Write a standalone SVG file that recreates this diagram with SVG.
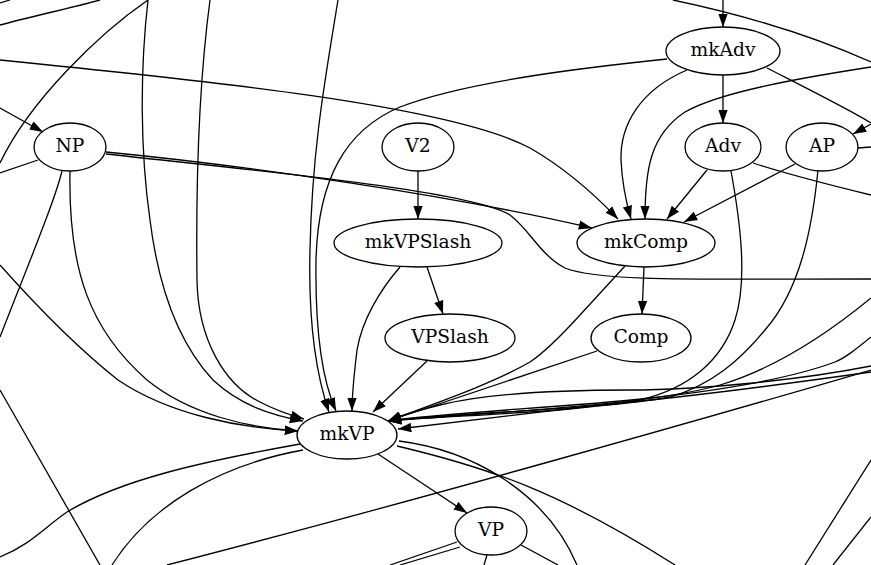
<svg xmlns="http://www.w3.org/2000/svg" width="871" height="565" viewBox="0 0 871 565">
  <defs>
    <marker id="ah" viewBox="0 0 14 10" refX="13.3" refY="5" markerWidth="14" markerHeight="10" markerUnits="userSpaceOnUse" orient="auto">
      <path d="M0,0.3 L13.3,5 L0,9.7 z" fill="#000"/>
    </marker>
  </defs>
  <style>
    .node ellipse { fill: none; stroke: #000; stroke-width: 1.3; }
    .node text { font-family: "DejaVu Serif", "Liberation Serif", serif; font-size: 18.67px; text-anchor: middle; fill: #000; }
    #edges path { fill: none; stroke: #000; stroke-width: 1.3; }
    #edges path.a { marker-end: url(#ah); }
  </style>
  <rect width="871" height="565" fill="#fff"/>

  <g id="edges">
    <!-- lines entering from the top border -->
    <path d="M0,3 L10,0"/>
    <path d="M100,0 C70,8 30,17 0,25"/>
    <path d="M148,0 C100,33 30,100 0,163"/>
    <path class="a" d="M148,0 C140,70 140,150 150,220 C160,300 185,350 213,380 C240,405 270,415 303,421"/>
    <path class="a" d="M210,0 C198,90 196,200 197,280 C198,340 225,385 260,402 C275,410 290,415 304,419"/>
    <path class="a" d="M338,0 C325,80 312,150 310,250 C308,330 318,380 329,412"/>
    <path d="M673,0 C730,12 800,30 871,62"/>
    <path class="a" d="M723,0 L723,27"/>
    <path class="a" d="M0,60 C200,80 450,105 530,148 C565,168 595,195 618,219"/>

    <!-- NP -->
    <path class="a" d="M0,108 L43,132"/>
    <path d="M38,160 L0,173"/>
    <path d="M62,171 C55,200 30,260 0,337"/>
    <path d="M0,390 L100,565"/>
    <path class="a" d="M70,171 C68,270 90,330 147,380 C190,415 250,428 298,431"/>
    <path class="a" d="M0,265 C40,310 80,350 118,380 C170,415 240,428 298,431"/>
    <path class="a" d="M106,152 C250,166 450,195 592,228"/>
    <path d="M106,154 C250,170 470,190 510,215 C530,230 540,255 565,268 C600,282 700,279 871,279"/>

    <!-- V2 / mkVPSlash / VPSlash -->
    <path class="a" d="M418,171 L418,219"/>
    <path class="a" d="M427,267 L443,314"/>
    <path class="a" d="M400,267 C380,290 362,320 357,350 C354,375 352,395 352,411"/>
    <path class="a" d="M427,361 L373,412"/>

    <!-- mkAdv -->
    <path class="a" d="M723,75 L723,123"/>
    <path class="a" d="M687,70 C640,90 620,125 621,160 C622,185 627,205 631,219"/>
    <path class="a" d="M667,59 C600,66 470,80 400,107 C345,130 318,180 316,260 C315,330 322,380 336,411"/>
    <path d="M767,68 C810,90 850,110 871,123"/>
    <path class="a" d="M871,124 L853,134"/>
    <path class="a" d="M871,67 C800,78 720,92 685,112 C650,135 645,170 645,219"/>

    <!-- Adv / AP -->
    <path class="a" d="M707,170 L667,219"/>
    <path class="a" d="M795,164 L684,222"/>
    <path d="M753,163 C790,175 830,185 871,195"/>
    <path d="M858,148 L871,147"/>
    <path class="a" d="M731,171 C740,220 748,280 735,320 C722,360 690,388 640,400 C560,414 450,415 388,421"/>
    <path class="a" d="M818,170 C812,230 800,290 765,330 C740,360 712,385 670,397 C600,410 460,412 388,421"/>

    <!-- mkComp / Comp -->
    <path class="a" d="M644,267 L642,314"/>
    <path class="a" d="M625,266 L580,315 C560,337 545,352 530,362 C490,385 430,405 388,421"/>
    <path class="a" d="M597,351 L388,421"/>

    <!-- lines entering mkVP from the right border -->
    <path class="a" d="M871,298 C820,340 770,370 720,385 C650,405 500,412 388,421"/>
    <path class="a" d="M871,337 C855,350 845,358 835,362 C800,375 740,388 650,398 C560,408 450,412 388,421"/>
    <path class="a" d="M871,366 C800,380 700,390 630,390 C550,390 480,395 440,405 C420,410 400,416 388,421"/>
    <path class="a" d="M871,372 C800,382 700,396 600,405 C520,414 450,423 398,429"/>
    <path d="M871,370 C700,420 400,505 167,565"/>

    <!-- mkVP outgoing -->
    <path class="a" d="M378,454 L467,513"/>
    <path d="M399,441 C470,450 545,490 577,565"/>
    <path d="M397,446 C490,468 560,492 675,565"/>
    <path d="M300,444 C200,462 120,480 67,512 C45,527 30,545 0,557"/>
    <path d="M303,450 C220,465 150,505 112,565"/>

    <!-- VP -->
    <path d="M457,542 L390,565"/>
    <path d="M460,547 L400,565"/>
    <path d="M487,555 L484,565"/>
    <path d="M521,545 L558,565"/>

    <!-- lower right border -->
    <path d="M871,460 L805,565"/>
    <path d="M871,517 L833,565"/>
  </g>

  <g id="NP" class="node"><ellipse cx="70" cy="147" rx="36" ry="24"/><text x="70" y="152">NP</text></g>
  <g id="V2" class="node"><ellipse cx="418" cy="147" rx="36" ry="24"/><text x="418" y="152">V2</text></g>
  <g id="mkAdv" class="node"><ellipse cx="723" cy="51" rx="57" ry="24"/><text x="723" y="56">mkAdv</text></g>
  <g id="Adv" class="node"><ellipse cx="723" cy="147" rx="38" ry="24"/><text x="723" y="152">Adv</text></g>
  <g id="AP" class="node"><ellipse cx="822" cy="147" rx="36" ry="24"/><text x="822" y="152">AP</text></g>
  <g id="mkVPSlash" class="node"><ellipse cx="418" cy="243" rx="84" ry="24"/><text x="418" y="248">mkVPSlash</text></g>
  <g id="mkComp" class="node"><ellipse cx="646" cy="243" rx="69" ry="24"/><text x="646" y="248">mkComp</text></g>
  <g id="VPSlash" class="node"><ellipse cx="450" cy="338" rx="65" ry="24"/><text x="450" y="343">VPSlash</text></g>
  <g id="Comp" class="node"><ellipse cx="641" cy="338" rx="50" ry="24"/><text x="641" y="343">Comp</text></g>
  <g id="mkVP" class="node"><ellipse cx="347" cy="435" rx="50" ry="24"/><text x="347" y="440">mkVP</text></g>
  <g id="VP" class="node"><ellipse cx="491" cy="531" rx="36" ry="24"/><text x="491" y="536">VP</text></g>
</svg>
